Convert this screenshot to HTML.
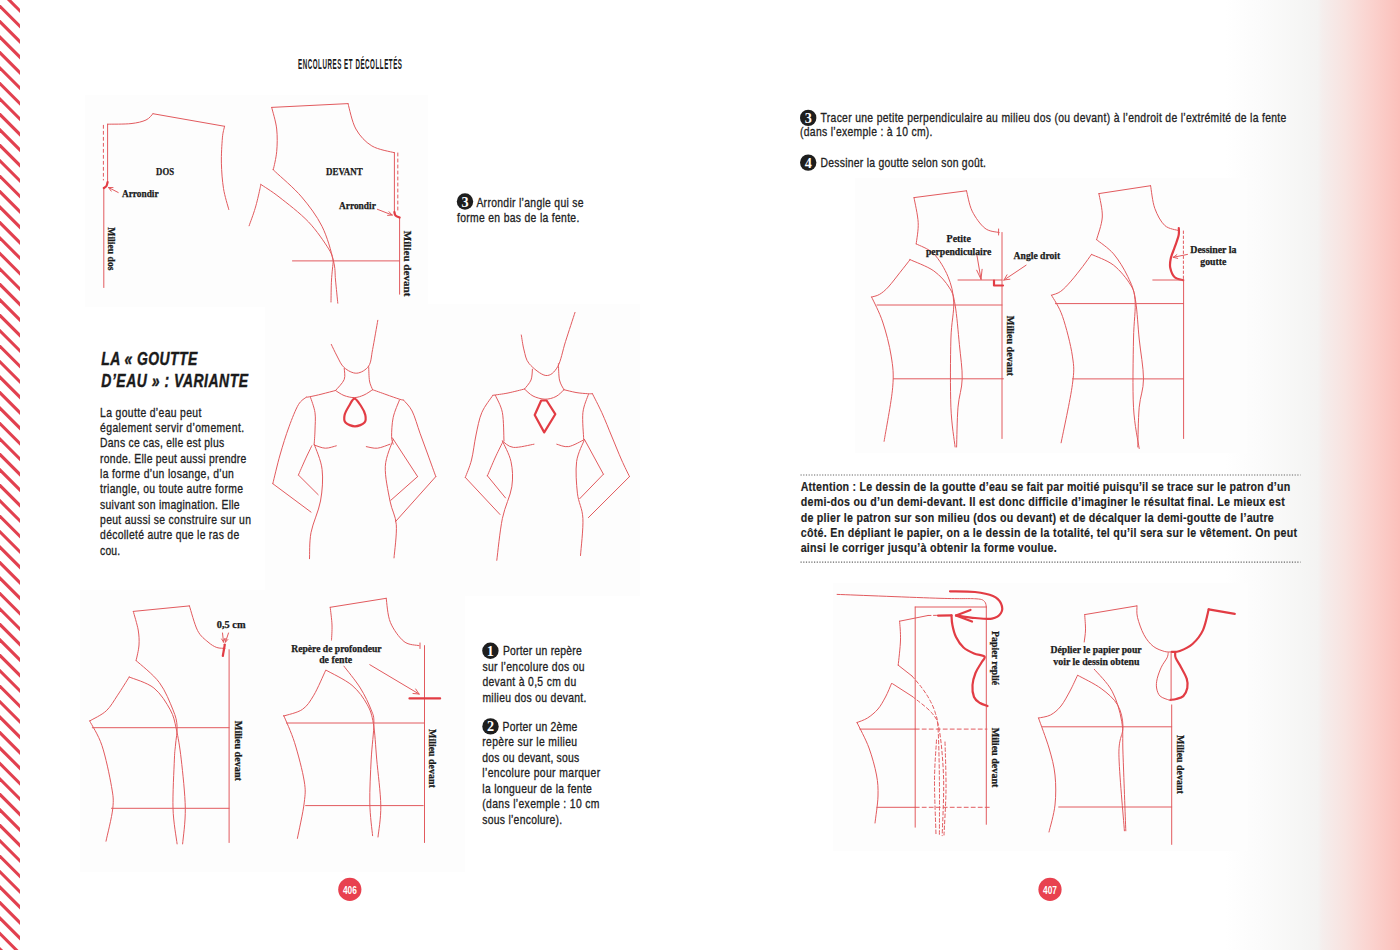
<!DOCTYPE html>
<html><head><meta charset="utf-8"><title>Encolures et décolletés</title>
<style>
html,body{margin:0;padding:0;background:#fff;}
svg{display:block;}
text{font-family:"Liberation Sans",sans-serif;fill:#222;}
.b{font-size:12.2px;stroke:#222;stroke-width:0.3px;}
.bb{font-size:12.4px;font-weight:bold;stroke:#222;stroke-width:0.15px;}
.hd{font-size:13.8px;font-weight:bold;fill:#1a1a1a;}
.tt{font-size:18.6px;font-weight:bold;font-style:italic;fill:#1a1a1a;stroke:#1a1a1a;stroke-width:0.45px;}
.num{font-family:"Liberation Serif",serif;font-weight:bold;font-size:14.2px;fill:#fff;}
.pn{font-size:11.6px;font-weight:bold;fill:#fff;}
.lb{font-family:"Liberation Serif",serif;font-weight:bold;font-size:10px;fill:#1a1a1a;stroke:#1a1a1a;stroke-width:0.25px;}
.dot{stroke:#666;stroke-width:1.2;stroke-dasharray:1.2 1.5;}
.r{fill:none;stroke:#e25a5e;stroke-width:1;stroke-linecap:round;stroke-linejoin:round;}
.rt{fill:none;stroke:#e23c44;stroke-width:2.2;stroke-linecap:round;stroke-linejoin:round;}
</style></head>
<body>
<svg width="1400" height="950" viewBox="0 0 1400 950">
<defs>
<linearGradient id="edge" x1="0" x2="1" y1="0" y2="0">
<stop offset="0" stop-color="#ffffff"/>
<stop offset="0.2" stop-color="#fbfbfb"/>
<stop offset="0.4286" stop-color="#f6f6f5"/>
<stop offset="0.531" stop-color="#f4f3f2"/>
<stop offset="0.554" stop-color="#f5eeed"/>
<stop offset="0.686" stop-color="#f8e3e0"/>
<stop offset="0.829" stop-color="#fad3cf"/>
<stop offset="0.943" stop-color="#fbc6c1"/>
<stop offset="1" stop-color="#fbbfba"/>
</linearGradient>
<clipPath id="sc"><rect x="0" y="0" width="20" height="950"/></clipPath>
</defs>
<rect width="1400" height="950" fill="#fff"/>
<rect x="1225" y="0" width="175" height="950" fill="url(#edge)"/>
<g clip-path="url(#sc)" stroke="#e2404f" stroke-width="3.1"><line x1="-6" y1="-30.55" x2="26" y2="1.45"/><line x1="-6" y1="-15.10" x2="26" y2="16.90"/><line x1="-6" y1="0.36" x2="26" y2="32.36"/><line x1="-6" y1="15.81" x2="26" y2="47.81"/><line x1="-6" y1="31.27" x2="26" y2="63.27"/><line x1="-6" y1="46.72" x2="26" y2="78.72"/><line x1="-6" y1="62.18" x2="26" y2="94.18"/><line x1="-6" y1="77.63" x2="26" y2="109.63"/><line x1="-6" y1="93.09" x2="26" y2="125.09"/><line x1="-6" y1="108.54" x2="26" y2="140.54"/><line x1="-6" y1="124.00" x2="26" y2="156.00"/><line x1="-6" y1="139.45" x2="26" y2="171.45"/><line x1="-6" y1="154.91" x2="26" y2="186.91"/><line x1="-6" y1="170.36" x2="26" y2="202.36"/><line x1="-6" y1="185.81" x2="26" y2="217.81"/><line x1="-6" y1="201.27" x2="26" y2="233.27"/><line x1="-6" y1="216.72" x2="26" y2="248.72"/><line x1="-6" y1="232.18" x2="26" y2="264.18"/><line x1="-6" y1="247.63" x2="26" y2="279.63"/><line x1="-6" y1="263.09" x2="26" y2="295.09"/><line x1="-6" y1="278.54" x2="26" y2="310.54"/><line x1="-6" y1="294.00" x2="26" y2="326.00"/><line x1="-6" y1="309.45" x2="26" y2="341.45"/><line x1="-6" y1="324.91" x2="26" y2="356.91"/><line x1="-6" y1="340.36" x2="26" y2="372.36"/><line x1="-6" y1="355.82" x2="26" y2="387.82"/><line x1="-6" y1="371.27" x2="26" y2="403.27"/><line x1="-6" y1="386.73" x2="26" y2="418.73"/><line x1="-6" y1="402.19" x2="26" y2="434.19"/><line x1="-6" y1="417.64" x2="26" y2="449.64"/><line x1="-6" y1="433.09" x2="26" y2="465.09"/><line x1="-6" y1="448.55" x2="26" y2="480.55"/><line x1="-6" y1="464.00" x2="26" y2="496.00"/><line x1="-6" y1="479.46" x2="26" y2="511.46"/><line x1="-6" y1="494.91" x2="26" y2="526.91"/><line x1="-6" y1="510.37" x2="26" y2="542.37"/><line x1="-6" y1="525.82" x2="26" y2="557.82"/><line x1="-6" y1="541.28" x2="26" y2="573.28"/><line x1="-6" y1="556.74" x2="26" y2="588.74"/><line x1="-6" y1="572.19" x2="26" y2="604.19"/><line x1="-6" y1="587.64" x2="26" y2="619.64"/><line x1="-6" y1="603.10" x2="26" y2="635.10"/><line x1="-6" y1="618.55" x2="26" y2="650.55"/><line x1="-6" y1="634.01" x2="26" y2="666.01"/><line x1="-6" y1="649.47" x2="26" y2="681.47"/><line x1="-6" y1="664.92" x2="26" y2="696.92"/><line x1="-6" y1="680.38" x2="26" y2="712.38"/><line x1="-6" y1="695.83" x2="26" y2="727.83"/><line x1="-6" y1="711.28" x2="26" y2="743.28"/><line x1="-6" y1="726.74" x2="26" y2="758.74"/><line x1="-6" y1="742.19" x2="26" y2="774.19"/><line x1="-6" y1="757.65" x2="26" y2="789.65"/><line x1="-6" y1="773.11" x2="26" y2="805.11"/><line x1="-6" y1="788.56" x2="26" y2="820.56"/><line x1="-6" y1="804.01" x2="26" y2="836.01"/><line x1="-6" y1="819.47" x2="26" y2="851.47"/><line x1="-6" y1="834.92" x2="26" y2="866.92"/><line x1="-6" y1="850.38" x2="26" y2="882.38"/><line x1="-6" y1="865.84" x2="26" y2="897.84"/><line x1="-6" y1="881.29" x2="26" y2="913.29"/><line x1="-6" y1="896.75" x2="26" y2="928.75"/><line x1="-6" y1="912.20" x2="26" y2="944.20"/><line x1="-6" y1="927.65" x2="26" y2="959.65"/><line x1="-6" y1="943.11" x2="26" y2="975.11"/><line x1="-6" y1="958.56" x2="26" y2="990.56"/></g>
<rect x="85" y="95" width="343" height="212" fill="#fdfdfd"/>
<rect x="265" y="304" width="375" height="292" fill="#fdfdfd"/>
<rect x="80" y="590" width="385" height="282" fill="#fdfdfd"/>
<rect x="855" y="178" width="392" height="275" fill="#fdfdfd"/>
<rect x="833" y="583" width="415" height="268" fill="#fdfdfd"/>
<path d="M107.6,124.2L107.6,183.2" class="r"/>
<line x1="103.4" y1="125.3" x2="103.4" y2="180" class="r" stroke-dasharray="3 3"/>
<path d="M103.8,187.4L103.8,287.5" class="r"/>
<path d="M107.6,124.2C111.5,124.1 124.6,124.3 131.0,123.6C137.4,122.9 142.3,121.7 146.0,120.0C149.7,118.3 151.8,114.8 152.9,113.7" class="r"/>
<line x1="152.9" y1="113.7" x2="224.6" y2="126.3" class="r"/>
<path d="M224.6,126.3C224.2,128.2 222.9,131.8 222.4,137.9C221.9,144.1 221.2,154.8 221.4,163.2C221.6,171.6 222.3,180.8 223.5,188.5C224.7,196.2 227.9,206.0 228.8,209.5" class="r"/>
<path d="M107.6,182.0C107.4,182.7 107.1,185.0 106.5,186.0C105.9,187.0 104.2,187.7 103.8,188.0" class="rt"/>
<line x1="118.2" y1="192.5" x2="108.5" y2="187.5" class="r"/>
<line x1="108.5" y1="187.5" x2="113.0" y2="187.6" class="r"/>
<line x1="108.5" y1="187.5" x2="111.2" y2="191.1" class="r"/>
<text x="156.1" y="174.8" textLength="17.9" lengthAdjust="spacingAndGlyphs" class="lb" font-size="9.5">DOS</text>
<text x="122" y="196.5" textLength="36.6" lengthAdjust="spacingAndGlyphs" class="lb" font-size="9.5">Arrondir</text>
<text transform="translate(108.2,227.3) rotate(90)" x="0" y="0" textLength="43.2" lengthAdjust="spacingAndGlyphs" class="lb" font-size="10.5">Milieu dos</text>
<line x1="271.7" y1="107.4" x2="348" y2="103.6" class="r"/>
<path d="M271.7,107.4C272.5,111.0 275.9,121.6 276.7,129.0C277.5,136.4 277.3,144.8 276.7,151.6C276.1,158.4 273.9,166.7 273.3,169.7" class="r"/>
<path d="M273.3,169.7C273.7,170.1 270.9,167.5 275.6,172.0C280.3,176.5 293.9,187.8 301.6,196.9C309.3,206.0 316.7,215.8 322.0,226.3C327.3,236.9 331.1,251.2 333.3,260.2C335.6,269.1 334.8,272.8 335.5,280.0C336.2,287.2 337.4,299.3 337.8,303.2" class="r"/>
<path d="M333.3,261.0C333.0,264.2 331.9,273.2 331.5,280.0C331.1,286.8 331.1,298.3 331.0,302.0" class="r"/>
<path d="M260.8,184.4C263.8,186.5 271.1,190.7 279.0,196.9C286.9,203.1 300.1,213.1 308.4,221.8C316.7,230.5 324.5,242.3 328.7,248.9C332.9,255.5 332.5,259.3 333.3,261.4" class="r"/>
<path d="M260.8,184.4C260.6,185.3 260.6,186.0 259.7,190.0C258.8,194.0 257.0,202.2 255.2,208.2C253.4,214.2 250.1,222.9 249.1,225.8" class="r"/>
<path d="M348.0,103.6C349.3,107.8 351.9,122.0 355.9,129.0C359.9,136.1 365.4,142.0 371.8,145.9C378.2,149.8 390.6,151.6 394.4,152.7" class="r"/>
<path d="M394.4,152.7L394.4,213.8" class="r"/>
<line x1="397.8" y1="153" x2="397.8" y2="212" class="r" stroke-dasharray="3 3"/>
<path d="M399.6,217.2L399.6,294.2" class="r"/>
<path d="M394.4,212.0C394.6,212.6 394.6,214.6 395.5,215.5C396.4,216.4 398.9,217.2 399.6,217.5" class="rt"/>
<line x1="292.5" y1="260.9" x2="399.6" y2="260.9" class="r"/>
<line x1="377.4" y1="209.3" x2="392.1" y2="215" class="r"/>
<line x1="392.1" y1="215" x2="387.6" y2="215.4" class="r"/>
<line x1="392.1" y1="215" x2="389.0" y2="211.7" class="r"/>
<text x="326" y="174.7" textLength="36.7" lengthAdjust="spacingAndGlyphs" class="lb" font-size="9.5">DEVANT</text>
<text x="339" y="209.3" textLength="36.8" lengthAdjust="spacingAndGlyphs" class="lb" font-size="9.5">Arrondir</text>
<text transform="translate(403.6,230.8) rotate(90)" x="0" y="0" textLength="65.6" lengthAdjust="spacingAndGlyphs" class="lb" font-size="10.5">Milieu devant</text>
<path d="M331.3,344.4C332.2,346.3 334.9,352.1 337.0,356.0C339.1,359.9 340.9,364.7 344.2,367.6C347.5,370.5 352.7,373.5 356.8,373.2C360.9,372.9 366.1,369.9 368.7,366.0C371.3,362.1 371.1,357.1 372.6,349.5C374.1,341.9 376.9,325.2 377.8,320.3" class="r"/>
<path d="M344.2,368.4C344.2,370.2 345.6,375.8 344.2,379.5C342.8,383.2 336.9,388.7 335.5,390.5" class="r"/>
<path d="M368.7,366.8C368.8,369.2 368.9,377.2 369.5,381.0C370.1,384.8 372.1,388.2 372.6,389.7" class="r"/>
<path d="M335.5,390.5C336.9,391.3 340.8,394.3 344.0,395.5C347.2,396.7 351.2,397.7 354.5,397.6C357.8,397.5 361.0,396.3 364.0,395.0C367.0,393.7 371.2,390.6 372.6,389.7" class="r"/>
<path d="M335.5,390.5C333.2,391.1 326.3,392.9 322.0,394.0C317.7,395.1 312.1,396.3 309.5,396.8C306.9,397.3 306.8,397.1 306.3,397.2" class="r"/>
<path d="M372.6,389.7C374.8,390.5 381.5,392.9 386.0,394.5C390.5,396.1 396.6,398.3 399.5,399.2C402.4,400.1 402.8,399.9 403.4,400.0" class="r"/>
<path d="M306.3,397.2C305.0,398.4 301.3,399.8 298.4,404.7C295.5,409.6 292.1,418.4 289.0,426.8C285.9,435.2 282.7,445.5 280.0,455.0C277.3,464.5 274.0,478.9 272.8,483.7" class="r"/>
<line x1="272.8" y1="483.7" x2="311" y2="512.1" class="r"/>
<path d="M310.3,396.8C311.1,399.4 314.2,407.1 315.0,412.6C315.8,418.1 315.1,424.7 315.0,430.0C314.9,435.3 314.3,441.8 314.2,444.2" class="r"/>
<path d="M311.8,445.8C310.7,448.2 307.2,455.1 305.0,460.0C302.8,464.9 299.5,472.5 298.4,475.0" class="r"/>
<line x1="298.4" y1="475" x2="318.2" y2="494.7" class="r"/>
<path d="M314.2,444.2C315.5,448.4 321.1,460.0 322.1,469.5C323.2,479.0 322.4,490.5 320.5,501.0C318.6,511.5 312.8,523.0 311.0,532.6C309.2,542.2 309.8,554.4 309.5,558.7" class="r"/>
<path d="M314.2,445.0C316.1,445.5 321.6,448.1 325.3,448.2C329.0,448.3 334.5,446.2 336.3,445.8" class="r"/>
<path d="M366.3,446.6C368.1,446.9 373.4,448.6 377.4,448.2C381.3,447.8 387.9,444.9 390.0,444.2" class="r"/>
<path d="M403.4,400.0C404.8,401.8 409.3,405.5 412.1,411.0C414.9,416.5 417.4,425.9 420.0,433.2C422.6,440.5 425.4,447.8 428.0,455.0C430.6,462.2 434.5,473.0 435.8,476.6" class="r"/>
<line x1="435.8" y1="476.6" x2="395.5" y2="521.6" class="r"/>
<path d="M399.5,400.0C398.4,402.9 394.5,411.3 393.2,417.4C391.9,423.4 391.6,431.8 391.6,436.3C391.6,440.8 392.9,442.9 393.2,444.2" class="r"/>
<path d="M393.2,439.5C391.9,444.0 385.8,456.1 385.3,466.3C384.8,476.6 388.2,491.3 390.0,501.0C391.8,510.7 395.6,515.2 396.3,524.7C397.0,534.2 394.4,552.4 394.0,557.9" class="r"/>
<line x1="392.4" y1="437.9" x2="417.6" y2="476.6" class="r"/>
<line x1="417.6" y1="476.6" x2="390.8" y2="500.3" class="r"/>
<path d="M354.5,398.6C352.5,398.6 350.6,403.3 349.0,406.0C347.4,408.7 345.2,412.2 344.6,415.0C344.0,417.8 343.8,420.6 345.5,422.5C347.2,424.4 351.8,426.3 355.0,426.3C358.2,426.3 362.8,424.4 364.5,422.5C366.2,420.6 365.9,417.8 365.3,415.0C364.7,412.2 362.8,408.7 361.0,406.0C359.2,403.3 356.5,398.6 354.5,398.6Z" class="rt"/>
<path d="M521.3,335.0C521.8,337.5 522.7,345.2 524.0,350.0C525.3,354.8 525.6,359.4 529.2,363.7C532.8,367.9 541.1,375.0 545.8,375.5C550.5,376.0 554.3,372.4 557.6,366.8C560.9,361.2 562.6,350.7 565.5,341.6C568.4,332.5 573.4,317.3 575.0,312.4" class="r"/>
<path d="M532.4,369.2C532.2,371.0 532.3,376.7 531.0,380.0C529.7,383.3 525.6,387.5 524.5,389.0" class="r"/>
<path d="M558.4,363.7C558.6,366.4 558.6,375.7 559.5,380.0C560.4,384.3 563.2,388.1 564.0,389.7" class="r"/>
<path d="M524.5,389.0C525.9,390.2 529.6,394.3 533.0,396.0C536.4,397.7 541.2,399.1 545.0,399.2C548.8,399.3 552.8,398.1 556.0,396.5C559.2,394.9 562.7,390.8 564.0,389.7" class="r"/>
<path d="M524.5,389.0C521.8,389.7 513.3,391.9 508.0,393.0C502.7,394.1 495.4,394.9 492.9,395.3" class="r"/>
<path d="M564.0,389.7C566.0,390.2 572.1,391.8 576.0,392.5C579.9,393.2 584.9,393.5 587.6,393.7C590.3,393.9 591.6,393.7 592.4,393.7" class="r"/>
<path d="M492.9,395.3C491.0,398.2 484.6,406.0 481.8,412.6C479.0,419.2 477.7,427.1 476.0,435.0C474.3,442.9 473.3,452.9 471.5,460.0C469.7,467.1 466.3,474.5 465.3,477.4" class="r"/>
<line x1="465.3" y1="477.4" x2="500" y2="514.5" class="r"/>
<path d="M495.3,395.3C496.5,398.2 500.9,405.0 502.4,412.6C503.8,420.2 503.7,436.3 504.0,441.0" class="r"/>
<path d="M502.4,442.6C501.2,445.2 497.5,452.5 495.0,458.0C492.5,463.5 488.7,472.8 487.4,475.8" class="r"/>
<line x1="487.4" y1="475.8" x2="505.5" y2="497.9" class="r"/>
<path d="M502.4,441.0C503.8,444.4 509.4,454.0 511.0,461.6C512.6,469.2 513.2,477.3 511.8,486.8C510.4,496.3 504.9,506.1 502.4,518.4C499.9,530.6 497.7,553.3 496.8,560.3" class="r"/>
<path d="M502.4,441.0C504.2,442.1 508.1,446.9 513.4,447.4C518.7,447.9 530.6,444.7 534.0,444.2" class="r"/>
<path d="M556.8,444.2C558.8,444.6 564.1,447.4 568.7,446.6C573.3,445.8 581.9,440.7 584.5,439.5" class="r"/>
<path d="M592.4,393.7C594.0,396.9 598.5,405.4 601.8,412.6C605.1,419.8 608.7,429.1 612.0,437.0C615.3,444.9 618.7,453.4 621.6,460.0C624.5,466.6 628.2,473.8 629.5,476.6" class="r"/>
<line x1="629.5" y1="476.6" x2="588.4" y2="517.6" class="r"/>
<path d="M588.4,394.5C587.5,397.5 583.7,405.1 582.9,412.6C582.1,420.1 583.6,435.0 583.7,439.5" class="r"/>
<path d="M584.5,439.5C583.2,443.2 577.8,452.7 576.6,461.6C575.4,470.6 576.4,483.7 577.4,493.2C578.4,502.7 582.4,508.0 582.9,518.4C583.4,528.8 580.9,549.3 580.5,555.5" class="r"/>
<line x1="584.5" y1="439.5" x2="603.4" y2="474.2" class="r"/>
<line x1="603.4" y1="474.2" x2="579.7" y2="498.7" class="r"/>
<path d="M541.2,400.5 L546.6,400.5 L555.3,414.2 L544.2,432.4 L534.7,415 Z" class="rt" stroke-width="2"/>
<line x1="133.3" y1="611.4" x2="189.4" y2="605.9" class="r"/>
<path d="M133.3,611.4C134.1,614.5 137.2,624.4 138.2,630.0C139.1,635.6 139.3,639.9 139.0,645.0C138.7,650.1 136.6,658.0 136.1,660.6" class="r"/>
<path d="M136.1,660.6C140.0,664.2 153.2,674.3 159.3,682.5C165.5,690.7 170.0,702.6 173.0,709.9C176.0,717.2 176.7,720.4 177.1,726.3C177.5,732.1 175.9,739.5 175.5,745.0C175.1,750.5 174.8,748.6 174.4,759.1C174.0,769.6 172.6,794.2 173.0,808.3C173.4,822.4 176.4,838.0 177.1,843.9" class="r"/>
<path d="M129.2,677.0C133.3,678.8 147.1,682.5 153.9,688.0C160.8,693.5 166.6,703.1 170.3,709.9C174.0,716.7 174.5,720.8 176.3,729.0C178.1,737.2 179.7,745.9 181.2,759.1C182.7,772.3 185.1,794.2 185.3,808.3C185.5,822.4 183.1,838.0 182.6,843.9" class="r"/>
<path d="M129.2,677.0C127.3,680.0 121.4,689.6 117.6,695.2C113.8,700.8 110.9,706.5 106.3,710.8C101.7,715.1 92.7,719.1 90.0,720.8" class="r"/>
<path d="M89.6,720.8C91.6,724.9 98.2,734.4 101.9,745.4C105.6,756.4 109.7,776.0 111.5,786.5C113.3,797.0 113.7,799.2 112.8,808.3C111.9,817.4 107.1,835.7 106.0,841.2" class="r"/>
<path d="M189.4,605.9C190.8,610.0 194.5,624.6 197.6,630.6C200.7,636.6 204.8,639.2 208.0,642.0C211.2,644.8 214.0,646.5 216.8,647.5C219.6,648.5 223.6,648.2 225.0,648.3" class="r"/>
<line x1="229.1" y1="649.7" x2="229.1" y2="842.5" class="r"/>
<line x1="92.3" y1="727.7" x2="229.1" y2="727.7" class="r"/>
<line x1="111.5" y1="808.3" x2="229.1" y2="808.3" class="r"/>
<line x1="224.8" y1="644.5" x2="222.8" y2="656" class="rt" stroke-width="2.4"/>
<line x1="228.5" y1="633" x2="225.5" y2="642" class="r"/>
<line x1="225.5" y1="642" x2="225.1" y2="638.5" class="r"/>
<line x1="225.5" y1="642" x2="227.9" y2="639.5" class="r"/>
<line x1="222.5" y1="633" x2="223.5" y2="642" class="r"/>
<line x1="223.5" y1="642" x2="221.6" y2="639.0" class="r"/>
<line x1="223.5" y1="642" x2="224.7" y2="638.7" class="r"/>
<text x="216.8" y="627.8" textLength="28.7" lengthAdjust="spacingAndGlyphs" class="lb" font-size="9.5">0,5 cm</text>
<text transform="translate(234.8,720.8) rotate(90)" x="0" y="0" textLength="60.2" lengthAdjust="spacingAndGlyphs" class="lb" font-size="10.5">Milieu devant</text>
<line x1="330.2" y1="607.3" x2="386.2" y2="598.3" class="r"/>
<path d="M330.2,607.3C330.5,610.2 331.8,619.5 332.0,625.0C332.2,630.5 331.6,637.6 331.5,640.1" class="r"/>
<path d="M343.9,666.1C346.6,669.8 355.8,680.7 360.3,688.0C364.9,695.3 368.9,704.0 371.2,709.9C373.5,715.8 373.9,715.4 373.9,723.6C373.9,731.8 371.9,745.9 371.2,759.1C370.5,772.3 369.6,790.1 369.8,802.9C370.0,815.7 372.1,830.2 372.6,835.7" class="r"/>
<path d="M325.6,670.5C323.6,674.6 317.7,688.7 313.8,695.2C309.9,701.7 307.4,705.9 302.4,709.4C297.4,712.9 286.8,714.9 283.7,716.0" class="r"/>
<path d="M326.1,670.2C330.4,672.7 345.2,679.6 352.0,685.3C358.8,691.0 363.5,698.0 367.1,704.4C370.7,710.8 371.8,714.5 373.4,723.6C375.0,732.7 375.5,745.4 376.7,759.1C377.9,772.8 380.6,792.6 380.8,805.6C381.0,818.6 378.5,831.8 378.0,837.0" class="r"/>
<path d="M283.7,715.4C285.5,720.0 291.2,731.8 294.6,742.7C298.0,753.6 302.6,771.0 304.2,781.0C305.8,791.0 305.3,793.3 304.2,802.9C303.1,812.5 298.5,832.5 297.4,838.4" class="r"/>
<path d="M386.2,598.3C386.9,602.3 387.4,615.2 390.4,622.4C393.4,629.6 399.2,637.6 404.0,641.5C408.8,645.4 416.5,644.9 419.0,645.6" class="r"/>
<line x1="424.5" y1="645.6" x2="424.5" y2="842.5" class="r"/>
<line x1="286.4" y1="723" x2="424.5" y2="723" class="r"/>
<line x1="305.6" y1="805.6" x2="423.2" y2="805.6" class="r"/>
<line x1="409.5" y1="698.4" x2="440.1" y2="698.4" class="rt" stroke-width="1.8"/>
<line x1="369.8" y1="664.7" x2="419" y2="694" class="r"/>
<line x1="419" y1="694" x2="413.0" y2="693.5" class="r"/>
<line x1="419" y1="694" x2="415.7" y2="689.0" class="r"/>
<line x1="420" y1="643" x2="420" y2="648.5" class="r"/>
<text x="291.3" y="651.6" textLength="90.3" lengthAdjust="spacingAndGlyphs" class="lb" font-size="9.5">Repère de profondeur</text>
<text x="319.2" y="663.3" textLength="32.8" lengthAdjust="spacingAndGlyphs" class="lb" font-size="9.5">de fente</text>
<text transform="translate(428.8,729) rotate(90)" x="0" y="0" textLength="58.8" lengthAdjust="spacingAndGlyphs" class="lb" font-size="10.5">Milieu devant</text>
<line x1="914" y1="197.6" x2="966.5" y2="190.8" class="r"/>
<path d="M914.0,197.6C914.7,201.8 917.8,214.9 918.2,222.6C918.6,230.3 916.5,240.3 916.2,243.9" class="r"/>
<path d="M916.2,243.9C919.1,245.6 928.5,248.4 933.8,253.8C939.1,259.2 944.7,268.6 948.0,276.6C951.3,284.7 953.2,291.7 953.7,302.1C954.2,312.5 951.4,321.5 950.9,339.0C950.4,356.5 950.2,389.2 950.9,407.2C951.6,425.2 954.4,440.4 955.1,447.0" class="r"/>
<path d="M909.7,259.5C913.7,261.4 927.2,266.2 933.8,270.9C940.4,275.6 946.0,282.2 949.5,287.9C953.0,293.6 953.5,295.5 955.1,305.0C956.8,314.5 958.2,332.4 959.4,344.7C960.6,357.0 962.4,368.4 962.2,378.8C962.0,389.2 958.9,395.8 958.0,407.2C957.1,418.6 956.8,440.4 956.6,447.0" class="r"/>
<path d="M910.0,259.7C908.4,261.8 903.7,267.8 900.1,272.3C896.5,276.9 891.7,283.3 888.3,287.0C884.9,290.7 882.3,292.7 879.5,294.4C876.7,296.1 872.9,296.6 871.6,297.0" class="r"/>
<path d="M871.6,297.0C873.5,301.2 879.4,312.1 882.7,322.0C886.0,331.9 889.5,345.2 891.2,356.1C892.9,367.0 893.9,373.1 892.7,387.3C891.5,401.5 885.5,432.3 884.1,441.3" class="r"/>
<path d="M966.5,190.8C967.5,194.2 969.1,204.9 972.2,211.2C975.3,217.4 980.5,224.8 985.0,228.3C989.5,231.9 996.8,231.8 999.2,232.5" class="r"/>
<line x1="1002" y1="232.5" x2="1002" y2="438.5" class="r"/>
<line x1="998.6" y1="229" x2="998.6" y2="235" class="r"/>
<line x1="877" y1="305" x2="1002" y2="305" class="r"/>
<line x1="893.5" y1="378.8" x2="1003.4" y2="378.8" class="r"/>
<line x1="958" y1="280" x2="1002" y2="280" class="r" stroke-width="1.6"/>
<path d="M994,280.5 L994,285.5 L1003,285.5" class="rt" stroke-width="1.8"/>
<line x1="976.8" y1="254.5" x2="981" y2="279.2" class="r"/>
<line x1="981" y1="279.2" x2="976.7" y2="270.2" class="r"/>
<line x1="981" y1="279.2" x2="982.1" y2="269.3" class="r"/>
<line x1="1026.1" y1="265.2" x2="1004" y2="280" class="r"/>
<line x1="1004" y1="280" x2="1007.0" y2="274.8" class="r"/>
<line x1="1004" y1="280" x2="1009.9" y2="279.2" class="r"/>
<text x="946.6" y="241.8" textLength="24.2" lengthAdjust="spacingAndGlyphs" class="lb" font-size="9.5">Petite</text>
<text x="925.9" y="254.8" textLength="65.3" lengthAdjust="spacingAndGlyphs" class="lb" font-size="9.5">perpendiculaire</text>
<text x="1013.6" y="259" textLength="46.6" lengthAdjust="spacingAndGlyphs" class="lb" font-size="9.5">Angle droit</text>
<text transform="translate(1006.5,315.8) rotate(90)" x="0" y="0" textLength="60.2" lengthAdjust="spacingAndGlyphs" class="lb" font-size="10.5">Milieu devant</text>
<line x1="1098.9" y1="193.6" x2="1150.6" y2="185.7" class="r"/>
<path d="M1098.9,193.6C1099.5,197.5 1102.7,209.3 1102.3,217.0C1101.9,224.7 1097.5,235.9 1096.6,239.7" class="r"/>
<path d="M1096.6,239.7C1099.4,242.1 1108.4,247.8 1113.6,253.9C1118.8,260.1 1124.2,269.0 1127.8,276.6C1131.4,284.2 1134.0,288.9 1135.0,299.3C1136.0,309.7 1133.8,321.0 1133.5,339.0C1133.2,357.0 1132.5,389.1 1133.5,407.3C1134.5,425.6 1138.2,441.6 1139.2,448.5" class="r"/>
<path d="M1091.5,254.4C1095.2,256.2 1107.1,260.1 1113.6,265.2C1120.1,270.3 1127.0,278.9 1130.7,285.1C1134.4,291.3 1134.4,293.2 1135.8,302.2C1137.2,311.2 1137.9,326.2 1139.2,339.0C1140.5,351.8 1143.5,367.5 1143.5,378.9C1143.5,390.3 1140.2,395.9 1139.2,407.3C1138.2,418.7 1138.0,440.4 1137.8,447.0" class="r"/>
<path d="M1091.5,254.4C1090.0,256.4 1086.2,261.9 1082.8,266.4C1079.4,270.8 1074.7,276.9 1071.0,281.1C1067.3,285.3 1064.0,289.0 1060.7,291.4C1057.5,293.8 1053.0,294.6 1051.5,295.2" class="r"/>
<path d="M1051.5,295.2C1053.3,298.7 1059.0,306.2 1062.5,316.4C1066.0,326.5 1070.8,344.8 1072.4,356.1C1074.1,367.5 1074.3,370.1 1072.4,384.5C1070.5,398.9 1063.0,433.1 1061.1,442.8" class="r"/>
<path d="M1150.6,185.7C1151.3,189.5 1152.4,201.8 1154.8,208.4C1157.2,215.0 1160.8,221.8 1164.8,225.5C1168.8,229.2 1176.6,229.8 1179.0,230.6" class="r"/>
<line x1="1183.6" y1="280" x2="1183.6" y2="438.5" class="r"/>
<line x1="1183.4" y1="231" x2="1183.4" y2="279" class="r" stroke-dasharray="2.5 2.5"/>
<path d="M1178.8,228.0C1178.8,229.3 1179.3,232.4 1178.6,235.6C1177.9,238.8 1176.0,243.3 1174.7,247.2C1173.4,251.0 1171.4,255.2 1170.7,258.7C1170.0,262.2 1169.6,264.9 1170.3,268.0C1171.0,271.1 1172.5,275.3 1174.7,277.3C1176.9,279.3 1181.8,279.7 1183.2,280.2" class="rt"/>
<line x1="1152.8" y1="280" x2="1183.6" y2="280" class="r"/>
<line x1="1055.4" y1="303.6" x2="1183.6" y2="303.6" class="r"/>
<line x1="1072.4" y1="378.9" x2="1183.6" y2="378.9" class="r"/>
<line x1="1187.5" y1="254.4" x2="1173.3" y2="257.3" class="r"/>
<line x1="1173.3" y1="257.3" x2="1176.9" y2="254.6" class="r"/>
<line x1="1173.3" y1="257.3" x2="1177.7" y2="258.4" class="r"/>
<text x="1190.3" y="253.3" textLength="46.1" lengthAdjust="spacingAndGlyphs" class="lb" font-size="9.5">Dessiner la</text>
<text x="1200.3" y="264.7" textLength="26.1" lengthAdjust="spacingAndGlyphs" class="lb" font-size="9.5">goutte</text>
<path d="M837.1,594.4C854.2,595.0 916.9,597.6 940.0,598.3C963.1,599.0 968.6,598.3 976.0,598.8C983.4,599.3 982.8,600.1 984.5,601.5C986.2,602.9 986.0,606.1 986.3,607.0" class="r"/>
<line x1="986.3" y1="607" x2="986.3" y2="824.3" class="r"/>
<path d="M950.0,591.4C954.2,591.5 967.8,591.2 975.0,592.0C982.2,592.8 988.7,594.1 993.0,596.0C997.3,597.9 999.7,600.7 1001.0,603.5C1002.3,606.3 1002.5,610.5 1001.0,613.0C999.5,615.5 996.3,617.8 992.0,618.6C987.7,619.4 980.8,618.5 975.0,618.0C969.2,617.5 960.0,616.0 957.0,615.6" class="rt" stroke-width="1.5" stroke="#e0545a"/>
<line x1="956" y1="615.5" x2="970.5" y2="610" class="rt" stroke-width="1.4" stroke="#e0545a"/>
<line x1="956" y1="615.5" x2="972" y2="621.5" class="rt" stroke-width="1.4" stroke="#e0545a"/>
<line x1="915.2" y1="607" x2="986.3" y2="607" class="r"/>
<line x1="915.2" y1="607" x2="915.2" y2="827.2" class="r"/>
<line x1="899.6" y1="621.2" x2="928" y2="615.5" class="r"/>
<line x1="928" y1="615.5" x2="938" y2="615.3" class="r" stroke-dasharray="3 2.5"/>
<line x1="938" y1="615.6" x2="951.5" y2="615.4" class="rt" stroke-width="1.9"/>
<path d="M951.5,615.4C951.6,617.0 951.6,621.4 952.4,625.0C953.1,628.6 954.1,633.2 956.0,637.0C957.9,640.8 960.5,644.8 963.5,647.5C966.5,650.2 970.5,652.0 974.0,653.5C977.5,655.0 983.2,655.0 984.5,656.5C985.8,658.0 983.0,659.8 981.5,662.5C980.0,665.2 977.0,669.2 975.5,673.0C974.0,676.8 972.8,681.0 972.5,685.0C972.2,689.0 972.8,694.0 974.0,697.0C975.2,700.0 977.8,701.5 980.0,703.0C982.2,704.5 986.2,705.5 987.5,706.0" class="rt" stroke-width="1.9"/>
<path d="M899.6,621.2C899.8,624.3 900.7,632.7 900.5,640.0C900.3,647.3 898.6,661.0 898.2,665.2" class="r"/>
<path d="M898.2,665.2L912.0,676.0" class="r"/>
<path d="M912.0,676.0C913.7,678.0 919.1,684.1 922.0,688.0C924.9,691.9 927.2,695.3 929.4,699.3C931.6,703.3 933.6,707.3 935.0,712.0C936.4,716.7 937.3,716.6 938.0,727.7C938.7,738.9 939.2,760.9 939.4,778.9C939.6,796.9 939.4,826.2 939.4,835.7" class="r" stroke-dasharray="3.5 2.5"/>
<path d="M892.5,683.7L912.4,696.5" class="r"/>
<path d="M912.4,696.5C915.7,699.3 927.8,707.8 932.3,713.5C936.8,719.2 937.5,719.7 939.4,730.6C941.3,741.5 943.1,761.4 943.6,778.9C944.1,796.4 942.4,826.2 942.2,835.7" class="r" stroke-dasharray="3.5 2.5"/>
<path d="M936.5,740.0C936.2,746.7 934.6,764.2 934.5,780.0C934.4,795.8 935.8,825.8 936.0,835.0" class="r" stroke-dasharray="3.5 2.5"/>
<path d="M945.0,742.0C945.2,750.0 946.2,774.5 946.0,790.0C945.8,805.5 944.3,827.5 944.0,835.0" class="r" stroke-dasharray="3.5 2.5"/>
<path d="M891.5,683.5C890.5,685.8 887.8,692.8 885.5,697.0C883.2,701.2 881.0,705.5 878.0,709.0C875.0,712.5 871.0,715.8 867.5,718.0C864.0,720.2 858.8,721.8 857.0,722.5" class="r"/>
<path d="M857.0,722.5C859.0,726.8 865.8,739.2 869.0,748.0C872.2,756.8 875.0,767.0 876.5,775.0C878.0,783.0 878.2,788.0 878.0,796.0C877.8,804.0 875.5,818.5 875.0,823.0" class="r"/>
<line x1="859.8" y1="729.1" x2="915.2" y2="729.1" class="r"/>
<line x1="915.2" y1="729.1" x2="987" y2="729.1" class="r" stroke-dasharray="4 3"/>
<line x1="876.9" y1="807.3" x2="915.2" y2="807.3" class="r"/>
<line x1="915.2" y1="807.3" x2="992" y2="807.3" class="r" stroke-dasharray="4 3"/>
<text transform="translate(992.2,631.1) rotate(90)" x="0" y="0" textLength="54.0" lengthAdjust="spacingAndGlyphs" class="lb" font-size="10.5">Papier replié</text>
<text transform="translate(992.2,727.7) rotate(90)" x="0" y="0" textLength="59.7" lengthAdjust="spacingAndGlyphs" class="lb" font-size="10.5">Milieu devant</text>
<line x1="1084.7" y1="614.6" x2="1136.7" y2="605.9" class="r"/>
<path d="M1084.7,614.6C1084.8,617.2 1085.6,625.4 1085.5,630.0C1085.4,634.6 1084.4,640.0 1084.2,642.0" class="r"/>
<path d="M1137.0,605.8C1137.1,607.7 1136.3,612.6 1137.5,617.4C1138.7,622.2 1141.3,629.9 1143.9,634.7C1146.5,639.5 1149.7,643.5 1153.2,646.3C1156.7,649.1 1161.6,650.6 1164.7,651.5C1167.8,652.4 1170.5,651.8 1171.7,651.9" class="r"/>
<path d="M1171.7,651.9C1173.0,651.8 1176.3,652.3 1179.8,651.0C1183.3,649.7 1188.6,647.5 1192.5,644.0C1196.4,640.5 1200.3,635.9 1203.0,630.1C1205.7,624.3 1207.8,612.8 1208.7,609.3" class="rt" stroke-width="1.6"/>
<line x1="1208.7" y1="609.3" x2="1234.8" y2="613.9" class="rt" stroke-width="1.4"/>
<path d="M1168.2,652.7C1168.0,653.6 1168.2,655.5 1167.0,657.9C1165.8,660.3 1162.9,663.7 1161.3,667.2C1159.7,670.7 1158.0,675.2 1157.2,678.7C1156.4,682.2 1156.1,685.1 1156.6,688.0C1157.1,690.9 1158.0,694.1 1160.1,696.1C1162.2,698.1 1167.9,699.5 1169.4,700.2" class="r"/>
<path d="M1175.2,652.1C1175.3,653.1 1174.7,655.4 1175.7,657.9C1176.7,660.4 1179.2,663.7 1181.0,667.2C1182.8,670.7 1185.7,675.2 1186.7,678.7C1187.8,682.2 1187.9,685.1 1187.3,688.0C1186.7,690.9 1185.1,694.3 1183.3,696.1C1181.5,697.9 1178.4,698.4 1176.3,699.0C1174.2,699.6 1171.5,699.7 1170.5,699.8" class="rt" stroke-width="1.9"/>
<line x1="1171.1" y1="652.7" x2="1171.1" y2="700.7" class="r"/>
<line x1="1171.7" y1="704.9" x2="1171.7" y2="844.4" class="r"/>
<path d="M1094.3,669.3C1097.3,672.9 1107.5,682.5 1112.1,691.2C1116.7,699.9 1119.9,710.8 1121.7,721.3C1123.5,731.8 1122.3,736.0 1123.0,754.2C1123.7,772.5 1125.3,818.0 1125.8,830.8" class="r"/>
<path d="M1077.9,675.4C1081.8,677.6 1094.5,683.6 1101.1,688.5C1107.7,693.4 1113.9,698.5 1117.6,704.9C1121.2,711.3 1122.8,718.6 1123.0,726.8C1123.2,735.0 1118.7,736.9 1118.9,754.2C1119.1,771.5 1123.5,818.0 1124.4,830.8" class="r"/>
<path d="M1077.5,675.4C1076.2,678.0 1072.8,685.9 1070.0,691.0C1067.2,696.1 1064.2,702.0 1061.0,706.0C1057.8,710.0 1054.2,713.0 1050.5,715.0C1046.8,717.0 1040.5,717.5 1038.5,718.0" class="r"/>
<path d="M1038.5,718.0C1040.2,723.0 1046.2,738.5 1049.0,748.0C1051.8,757.5 1054.0,765.5 1055.0,775.0C1056.0,784.5 1056.0,795.5 1055.0,805.0C1054.0,814.5 1050.0,827.5 1049.0,832.0" class="r"/>
<line x1="1042.3" y1="726.8" x2="1171.7" y2="726.8" class="r"/>
<line x1="1058.7" y1="807" x2="1171.7" y2="807" class="r"/>
<text x="1050.5" y="652.9" textLength="91.1" lengthAdjust="spacingAndGlyphs" class="lb" font-size="9.5">Déplier le papier pour</text>
<text x="1053.3" y="665.2" textLength="86.1" lengthAdjust="spacingAndGlyphs" class="lb" font-size="9.5">voir le dessin obtenu</text>
<text transform="translate(1176.6,735) rotate(90)" x="0" y="0" textLength="58.8" lengthAdjust="spacingAndGlyphs" class="lb" font-size="10.5">Milieu devant</text>
<text transform="translate(298,68.5) scale(0.45,1)" textLength="231.1" lengthAdjust="spacing" class="hd">ENCOLURES ET DÉCOLLETÉS</text><circle cx="465" cy="201.5" r="8.2" fill="#1e1e1e"/><text x="465" y="206.5" text-anchor="middle" class="num">3</text><text transform="translate(476.4,207) scale(0.85,1)" textLength="126.1" lengthAdjust="spacing" class="b">Arrondir l’angle qui se</text><text transform="translate(457,222.4) scale(0.85,1)" textLength="143.9" lengthAdjust="spacing" class="b">forme en bas de la fente.</text><text transform="translate(101.3,364.6) scale(0.75,1)" textLength="128.0" lengthAdjust="spacing" class="tt">LA « GOUTTE</text><text transform="translate(101.3,386.9) scale(0.75,1)" textLength="195.7" lengthAdjust="spacing" class="tt">D’EAU » : VARIANTE</text><text transform="translate(100.1,416.6) scale(0.85,1)" textLength="119.1" lengthAdjust="spacing" class="b">La goutte d’eau peut</text><text transform="translate(100.1,432.0) scale(0.85,1)" textLength="169.4" lengthAdjust="spacing" class="b">également servir d’omement.</text><text transform="translate(100.1,447.3) scale(0.85,1)" textLength="145.9" lengthAdjust="spacing" class="b">Dans ce cas, elle est plus</text><text transform="translate(100.1,462.7) scale(0.85,1)" textLength="172.1" lengthAdjust="spacing" class="b">ronde. Elle peut aussi prendre</text><text transform="translate(100.1,478.0) scale(0.85,1)" textLength="157.4" lengthAdjust="spacing" class="b">la forme d’un losange, d’un</text><text transform="translate(100.1,493.4) scale(0.85,1)" textLength="168.1" lengthAdjust="spacing" class="b">triangle, ou toute autre forme</text><text transform="translate(100.1,508.7) scale(0.85,1)" textLength="164.1" lengthAdjust="spacing" class="b">suivant son imagination. Elle</text><text transform="translate(100.1,524.1) scale(0.85,1)" textLength="177.5" lengthAdjust="spacing" class="b">peut aussi se construire sur un</text><text transform="translate(100.1,539.4) scale(0.85,1)" textLength="163.6" lengthAdjust="spacing" class="b">décolleté autre que le ras de</text><text transform="translate(100.1,554.8) scale(0.85,1)" textLength="23.5" lengthAdjust="spacing" class="b">cou.</text><circle cx="490.4" cy="650.8" r="8.2" fill="#1e1e1e"/><text x="490.4" y="655.8" text-anchor="middle" class="num">1</text><text transform="translate(502.9,655) scale(0.85,1)" textLength="92.8" lengthAdjust="spacing" class="b">Porter un repère</text><text transform="translate(482.4,670.6) scale(0.85,1)" textLength="120.2" lengthAdjust="spacing" class="b">sur l’encolure dos ou</text><text transform="translate(482.4,686.2) scale(0.85,1)" textLength="110.4" lengthAdjust="spacing" class="b">devant à 0,5 cm du</text><text transform="translate(482.4,701.8) scale(0.85,1)" textLength="122.4" lengthAdjust="spacing" class="b">milieu dos ou devant.</text><circle cx="490.5" cy="726.4" r="8.2" fill="#1e1e1e"/><text x="490.5" y="731.4" text-anchor="middle" class="num">2</text><text transform="translate(502.5,730.8) scale(0.85,1)" textLength="88.0" lengthAdjust="spacing" class="b">Porter un 2ème</text><text transform="translate(482.3,746.4) scale(0.85,1)" textLength="111.5" lengthAdjust="spacing" class="b">repère sur le milieu</text><text transform="translate(482.3,761.9) scale(0.85,1)" textLength="114.0" lengthAdjust="spacing" class="b">dos ou devant, sous</text><text transform="translate(482.3,777.4) scale(0.85,1)" textLength="138.6" lengthAdjust="spacing" class="b">l’encolure pour marquer</text><text transform="translate(482.3,792.9) scale(0.85,1)" textLength="128.9" lengthAdjust="spacing" class="b">la longueur de la fente</text><text transform="translate(482.3,808.4) scale(0.85,1)" textLength="137.8" lengthAdjust="spacing" class="b">(dans l’exemple : 10 cm</text><text transform="translate(482.3,823.9) scale(0.85,1)" textLength="94.0" lengthAdjust="spacing" class="b">sous l’encolure).</text><circle cx="808.2" cy="117.9" r="8.2" fill="#1e1e1e"/><text x="808.2" y="122.9" text-anchor="middle" class="num">3</text><text transform="translate(820.5,121.5) scale(0.85,1)" textLength="548.0" lengthAdjust="spacing" class="b">Tracer une petite perpendiculaire au milieu dos (ou devant) à l’endroit de l’extrémité de la fente</text><text transform="translate(800,135.8) scale(0.85,1)" textLength="155.9" lengthAdjust="spacing" class="b">(dans l’exemple : à 10 cm).</text><circle cx="808.2" cy="162.6" r="8.2" fill="#1e1e1e"/><text x="808.2" y="167.6" text-anchor="middle" class="num">4</text><text transform="translate(820.5,166.6) scale(0.85,1)" textLength="194.7" lengthAdjust="spacing" class="b">Dessiner la goutte selon son goût.</text><text transform="translate(800.7,491.2) scale(0.86,1)" textLength="569.2" lengthAdjust="spacing" class="bb">Attention : Le dessin de la goutte d’eau se fait par moitié puisqu’il se trace sur le patron d’un</text><text transform="translate(800.7,506.4) scale(0.86,1)" textLength="562.9" lengthAdjust="spacing" class="bb">demi-dos ou d’un demi-devant. Il est donc difficile d’imaginer le résultat final. Le mieux est</text><text transform="translate(800.7,521.6) scale(0.86,1)" textLength="550.0" lengthAdjust="spacing" class="bb">de plier le patron sur son milieu (dos ou devant) et de décalquer la demi-goutte de l’autre</text><text transform="translate(800.7,536.8) scale(0.86,1)" textLength="577.3" lengthAdjust="spacing" class="bb">côté. En dépliant le papier, on a le dessin de la totalité, tel qu’il sera sur le vêtement. On peut</text><text transform="translate(800.7,552.0) scale(0.86,1)" textLength="297.7" lengthAdjust="spacing" class="bb">ainsi le corriger jusqu’à obtenir la forme voulue.</text><line x1="800.5" y1="475" x2="1300.5" y2="475" class="dot"/><line x1="800.5" y1="562.2" x2="1300.5" y2="562.2" class="dot"/><circle cx="349.8" cy="889.4" r="11.6" fill="#e8414f"/><text x="342.90000000000003" y="893.6" textLength="13.9" lengthAdjust="spacingAndGlyphs" class="pn">406</text><circle cx="1050" cy="889.4" r="11.6" fill="#e8414f"/><text x="1043.1" y="893.6" textLength="13.9" lengthAdjust="spacingAndGlyphs" class="pn">407</text>
</svg>
</body></html>
